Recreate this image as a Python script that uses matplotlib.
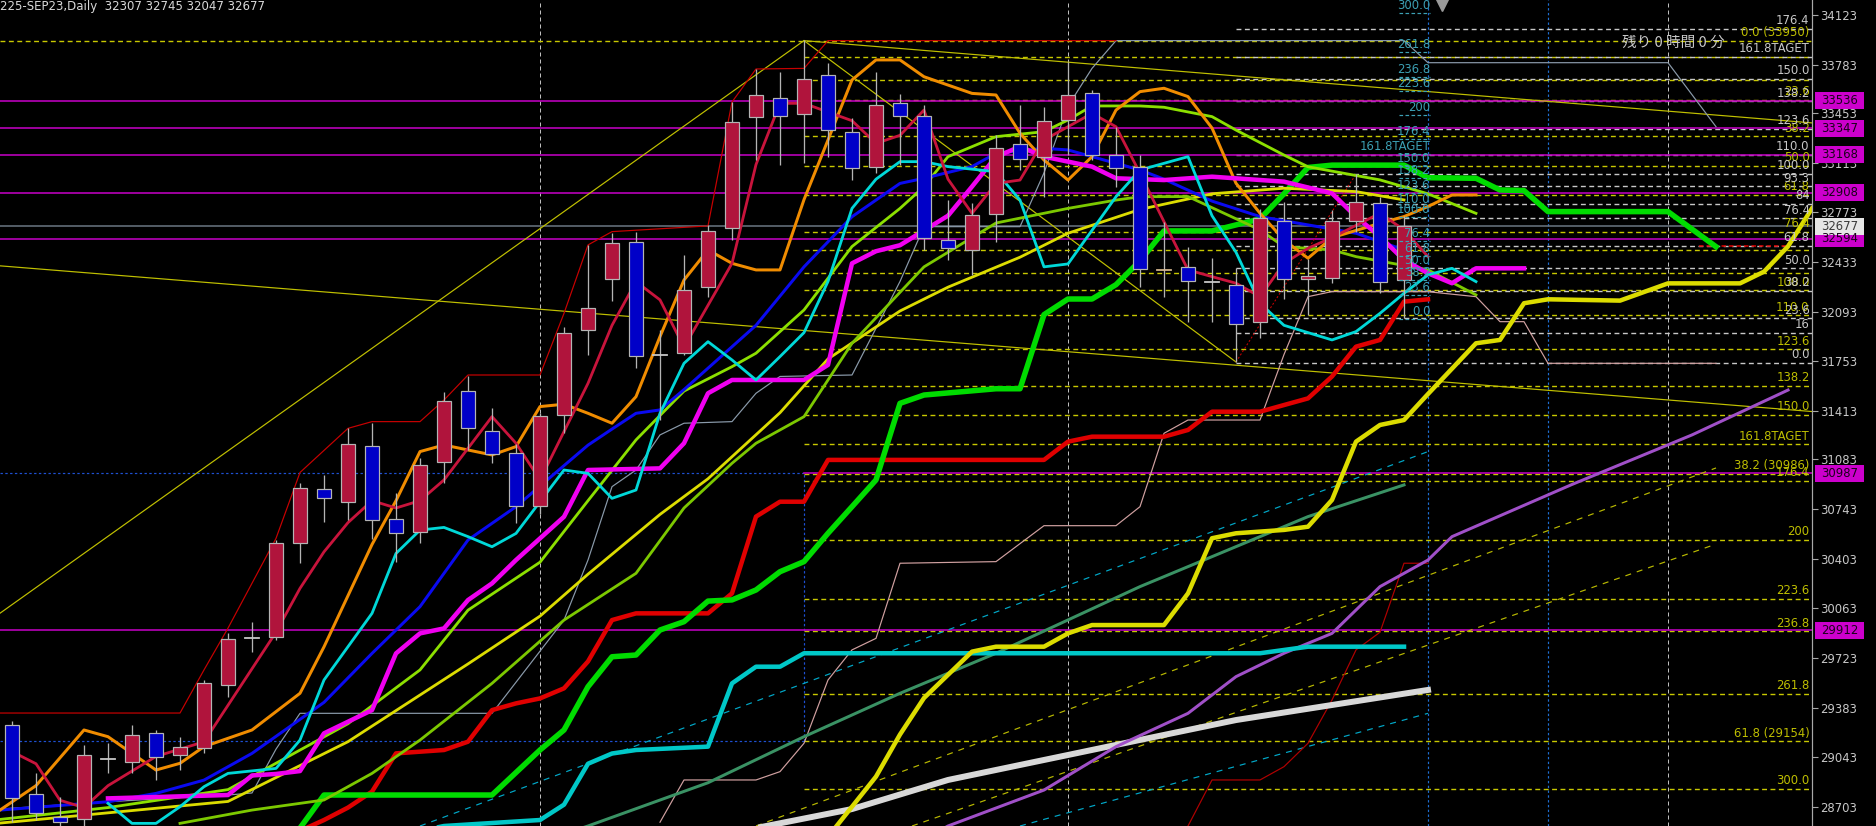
import matplotlib
matplotlib.use("Agg")
import matplotlib.pyplot as plt
from matplotlib.patches import Rectangle
from matplotlib.transforms import blended_transform_factory

# ---------------- candles (bar index 0..58) ----------------
opens = [29265, 28793, 28637, 28619, 29030, 29014, 29208, 29060, 29105, 29539,
         29858, 29869, 30508, 30877, 30793, 31174, 30672, 30588, 31067, 31553,
         31277, 31124, 30763, 31387, 31968, 32315, 32573, 31800, 31813, 32265,
         32666, 33425, 33555, 33446, 33713, 33323, 33083, 33521, 33432, 32584,
         32515, 32762, 33241, 33152, 33405, 33590, 33165, 33083, 32378, 32399,
         32296, 32276, 32023, 32714, 32317, 32324, 32714, 32837, 32307]
highs = [29290, 28934, 28774, 29128, 29139, 29265, 29231, 29185, 29573, 29892,
         29972, 30531, 30923, 30975, 31300, 31330, 30850, 31090, 31546, 31656,
         31432, 31190, 31400, 31991, 32550, 32634, 32641, 31968, 32481, 32687,
         33528, 33754, 33733, 33952, 33795, 33419, 33733, 33583, 33507, 32857,
         32837, 33302, 33507, 33494, 33802, 33610, 33357, 33165, 32707, 32536,
         32459, 32392, 32796, 32844, 32454, 32789, 33035, 32878, 32745]
lows = [28600, 28615, 28560, 28574, 28934, 28934, 28888, 28957, 29071, 29459,
        29767, 29846, 30371, 30656, 30668, 30535, 30382, 30508, 30919, 31147,
        31056, 30650, 30706, 31261, 31797, 32169, 31706, 31352, 31797, 32196,
        32584, 33131, 33097, 33111, 33152, 32994, 33042, 33097, 32515, 32447,
        32344, 32570, 33063, 32878, 33165, 33131, 32946, 32262, 32194, 32023,
        32023, 31749, 31913, 32180, 32071, 32289, 32638, 32221, 32047]
closes = [28763, 28660, 28603, 29060, 29040, 29196, 29048, 29117, 29554, 29851,
          29866, 30508, 30889, 30816, 31188, 30668, 30581, 31044, 31485, 31295,
          31120, 30763, 31380, 31946, 32121, 32561, 31790, 31808, 32242, 32646,
          33391, 33576, 33432, 33685, 33336, 33076, 33508, 33432, 32597, 32529,
          32755, 33213, 33138, 33398, 33576, 33165, 33076, 32385, 32385, 32303,
          32303, 32009, 32734, 32317, 32337, 32714, 32844, 32296, 32677]

# ---------------- indicator lines (bar index, price) ----------------
green_x = [12, 13, 20, 22, 23, 24, 25, 26, 27, 28, 29, 30, 31, 32, 33, 34, 35, 36, 37, 38,
           41, 42, 43, 44, 45, 46, 47, 48, 50, 52, 53, 54, 55, 58, 59, 61, 62, 63, 64, 69, 71]
green_y = [28560, 28786, 28786, 29094, 29231, 29527, 29732, 29744, 29915, 29972,
           30113, 30121, 30189, 30314, 30383, 30577, 30759, 30942, 31466, 31523,
           31566, 31566, 32073, 32180, 32180, 32278, 32441, 32646, 32646, 32728,
           32900, 33080, 33096, 33096, 33010, 33006, 32926, 32922, 32778, 32778, 32538]

red_x = [12, 13, 14, 15, 16, 18, 19, 20, 21, 22, 23, 24, 25, 26, 29, 30, 31, 32, 33, 34,
         43, 44, 45, 48, 49, 50, 52, 54, 55, 56, 57, 58, 59]
red_y = [28540, 28615, 28700, 28809, 29071, 29094, 29151, 29367, 29413, 29447,
         29516, 29700, 29983, 30029, 30029, 30166, 30691, 30793, 30793, 31079,
         31079, 31204, 31238, 31238, 31284, 31409, 31409, 31500, 31650, 31854,
         31900, 32162, 32178]

ythick_x = [34, 36, 37, 38, 40, 41, 43, 44, 45, 48, 49, 50, 51, 53, 54, 55, 56, 57, 58, 59,
            61, 62, 63, 64, 67, 69, 72, 73, 74, 75]
ythick_y = [28500, 28912, 29200, 29450, 29767, 29801, 29801, 29892, 29949, 29949,
            30166, 30543, 30577, 30600, 30622, 30805, 31204, 31318, 31352, 31530,
            31877, 31900, 32151, 32178, 32169, 32287, 32287, 32367, 32540, 32800]

cthick_x = [17, 18, 22, 23, 24, 25, 26, 29, 30, 31, 32, 33, 52, 54, 58]
cthick_y = [28540, 28574, 28615, 28720, 29000, 29070, 29094, 29117, 29550, 29664,
            29664, 29756, 29756, 29801, 29801]

white_x = [31, 35, 39, 44, 47, 51, 55, 59]
white_y = [28560, 28690, 28889, 29060, 29163, 29299, 29402, 29505]

violet_x = [38, 39, 43, 46, 49, 51, 53, 55, 57, 59, 60, 65, 70, 74]
violet_y = [28480, 28574, 28820, 29117, 29345, 29596, 29756, 29892, 30212, 30394,
            30554, 30911, 31250, 31557]

teal_x = [23, 24, 29, 33, 37, 41, 44, 47, 50, 54, 58]
teal_y = [28520, 28574, 28870, 29185, 29482, 29756, 29984, 30212, 30417, 30691, 30908]

magenta_x = [4, 9, 10, 11, 12, 13, 15, 16, 17, 18, 19, 20, 21, 23, 24, 27, 28, 29, 30, 33,
             34, 35, 36, 37, 39, 40, 41, 42, 43, 44, 45, 46, 48, 50, 53, 55, 56, 57, 58, 59,
             60, 61, 63]
magenta_y = [28763, 28786, 28920, 28930, 28950, 29208, 29367, 29755, 29892, 29926,
             30120, 30234, 30394, 30690, 31010, 31021, 31193, 31535, 31626, 31626,
             31729, 32424, 32507, 32548, 32750, 32949, 33154, 33222, 33154, 33120,
             33086, 33006, 32994, 33017, 32983, 32903, 32744, 32607, 32447, 32356,
             32288, 32390, 32390]

blue_x = [-0.5, 4, 6, 8, 10, 13, 15, 17, 19, 21, 22, 24, 25, 26, 27, 28, 31, 33, 35, 37,
          38, 40, 41, 43, 44, 45, 47, 48, 50, 52, 54, 56, 58]
blue_y = [28683, 28740, 28797, 28888, 29071, 29420, 29755, 30075, 30531, 30759,
          30900, 31180, 31290, 31398, 31421, 31560, 32000, 32400, 32743, 32971,
          33006, 33086, 33177, 33211, 33200, 33154, 33063, 33000, 32850, 32744,
          32687, 32630, 32516]

orange_x = [-0.5, 1, 3, 4, 6, 7, 8, 10, 12, 13, 14, 15, 16, 17, 18, 20, 21, 22, 23, 24,
            25, 26, 27, 28, 29, 30, 31, 32, 33, 34, 35, 36, 37, 38, 40, 41, 42, 43, 44, 45,
            46, 47, 48, 49, 50, 51, 52, 53, 54, 55, 57, 58, 59, 60, 61]
orange_y = [28683, 28850, 29231, 29185, 28957, 29003, 29117, 29231, 29482, 29800,
            30150, 30500, 30800, 31136, 31181, 31113, 31170, 31444, 31460, 31398,
            31330, 31512, 31923, 32310, 32516, 32424, 32379, 32379, 32860, 33268,
            33679, 33816, 33816, 33701, 33587, 33576, 33314, 33131, 32994, 33154,
            33473, 33599, 33622, 33565, 33350, 32972, 32767, 32584, 32459, 32600,
            32698, 32744, 32813, 32892, 32892]

cyan_x = [4, 5, 6, 7, 8, 9, 11, 12, 13, 15, 16, 17, 18, 19, 20, 21, 23, 24, 25, 26,
          27, 28, 29, 30, 31, 32, 33, 34, 35, 36, 37, 38, 39, 41, 42, 43, 44, 45, 46, 47,
          49, 50, 51, 52, 53, 55, 56, 57, 58, 59, 60, 61]
cyan_y = [28729, 28592, 28592, 28706, 28843, 28934, 28968, 29162, 29573, 30029,
          30439, 30599, 30617, 30554, 30485, 30576, 31010, 30987, 30816, 30873,
          31398, 31740, 31888, 31763, 31626, 31786, 31950, 32300, 32800, 33000,
          33120, 33120, 33086, 33051, 32857, 32400, 32420, 32650, 32880, 33063,
          33154, 32750, 32500, 32150, 32000, 31900, 31957, 32082, 32219, 32345,
          32390, 32299]

crimson_x = [0, 1, 2, 3, 4, 6, 8, 9, 10, 11, 12, 13, 14, 15, 16, 17, 18, 20, 21, 22,
             24, 25, 26, 27, 28, 30, 31, 32, 33, 35, 36, 37, 38, 39, 40, 41, 42, 43, 45, 46,
             47, 49, 50, 51, 52, 53, 54, 55, 57, 58, 59]
crimson_y = [29083, 29000, 28750, 28700, 28850, 29050, 29150, 29400, 29650, 29900,
             30200, 30450, 30650, 30800, 30750, 30800, 30942, 31375, 31193, 30942,
             31603, 32000, 32299, 32174, 31850, 32424, 33100, 33519, 33519, 33400,
             33245, 33300, 33473, 33000, 32766, 32971, 32994, 33268, 33450, 33359,
             33040, 32379, 32333, 32288, 32196, 32424, 32527, 32600, 32767, 32653, 32470]

yg1_x = [-0.5, 4, 9, 14, 17, 19, 22, 24, 26, 28, 30, 31, 33, 35, 37, 38, 39, 41, 43, 44,
         45, 47, 48, 50, 51, 53, 54, 57, 59, 61]
yg1_y = [28619, 28700, 28823, 29274, 29642, 30051, 30379, 30800, 31216, 31550,
         31717, 31809, 32105, 32539, 32800, 32949, 33154, 33291, 33325, 33405,
         33501, 33501, 33492, 33428, 33336, 33165, 33085, 32995, 32900, 32766]

yg2_x = [7, 10, 13, 15, 17, 20, 23, 26, 28, 30, 31, 33, 35, 38, 41, 44, 46, 47, 49, 52,
         53, 55, 56, 59, 61]
yg2_y = [28592, 28683, 28752, 28934, 29162, 29550, 29983, 30303, 30750, 31056,
         31193, 31375, 31877, 32400, 32700, 32800, 32857, 32880, 32881, 32653,
         32538, 32516, 32470, 32379, 32208]

ymav_x = [-0.5, 9, 14, 19, 22, 24, 27, 29, 32, 34, 37, 39, 42, 44, 47, 50, 53, 56, 58]
ymav_y = [28594, 28742, 29151, 29683, 30010, 30297, 30706, 30950, 31402, 31770,
          32098, 32261, 32466, 32630, 32793, 32900, 32938, 32915, 32858]

grey_x = [-0.5, 4, 9, 10, 11, 12, 20, 23, 24, 25, 26, 27, 28, 30, 31, 32, 35, 37, 38, 42,
          43, 44, 45, 46, 58, 59, 69, 71]
grey_y = [28690, 28740, 28786, 28800, 29100, 29345, 29345, 29983, 30394, 30896,
          31010, 31250, 31330, 31341, 31535, 31650, 31660, 32300, 32675, 32675,
          33043, 33500, 33758, 33948, 33948, 33797, 33797, 33359]

pink_x = [27, 28, 31, 32, 33, 34, 35, 36, 37, 41, 43, 46, 47, 48, 49, 52, 53, 54, 55, 59,
          61, 62, 63, 64, 71]
pink_y = [28600, 28889, 28889, 28946, 29140, 29573, 29779, 29858, 30372, 30383,
          30629, 30629, 30759, 31261, 31352, 31352, 31800, 32196, 32231, 32230,
          32196, 32025, 32025, 31740, 31740]

dred_x = [-0.5, 7, 8, 9, 11, 12, 14, 15, 17, 18, 19, 22, 23, 24, 25, 29, 30, 31, 33, 34, 46]
dred_y = [29347, 29347, 29642, 29928, 30542, 30993, 31295, 31341, 31341, 31489,
          31660, 31660, 32082, 32550, 32641, 32680, 33528, 33754, 33758, 33948, 33948]

dred2_x = [48, 49, 50, 52, 53, 54, 55, 56, 57, 58, 59]
dred2_y = [28450, 28574, 28889, 28889, 28980, 29140, 29436, 29779, 29900, 30372, 30372]

# trend lines (start bar, start price, end bar, end price)
trend_yellow = [(-0.5, 32407, 75, 31410), (-0.5, 30030, 33, 33948),
                (33, 33948, 75, 33385), (33, 33948, 51, 31749)]
trend_cyan_dash = [(17, 28574, 59, 31136), (42, 28574, 59, 29345)]
trend_yellow_dash = [(31, 28574, 71, 31024), (37.5, 28574, 71, 30503)]
trend_red_dot = [(51, 31749, 56, 33035)]

# horizontal levels
magenta_levels = [33536, 33347, 33168, 32908, 32594, 29912]
magenta_level_late = 30987
bid_price = 32677
yticks = [34123, 33783, 33453, 33113, 32773, 32433, 32093, 31753, 31413, 31083,
          30743, 30403, 30063, 29723, 29383, 29043, 28703]
box_prices = [33536, 33347, 33168, 32908, 32594, 30987, 29912]

# fibonacci objects
fib_levels = [0, 23.6, 38.2, 50, 61.8, 76.4, 100, 110, 123.6, 138.2, 150, 161.8,
              176.4, 200, 223.6, 236.8, 261.8, 300]
fib_names = ["0.0", "23.6", "38.2", "50.0", "61.8", "76.4", "100.0", "110.0", "123.6",
             "138.2", "150.0", "161.8TAGET", "176.4", "200", "223.6", "236.8", "261.8", "300.0"]
fibY_zero, fibY_hundred = 33945, 32239          # yellow set, from bar 33
fibC_zero, fibC_hundred = 32043, 32741          # cyan labels near bar 59
white_levels = [0, 16, 23.6, 38.2, 50, 61.8, 76.4, 84, 93.3, 100, 110, 123.6, 138.2,
                150, 161.8, 176.4]
white_names = ["0.0", "16", "23.6", "38.2", "50.0", "61.8", "76.4", "84", "93.3", "100.0",
               "110.0", "123.6", "138.2", "150.0", "161.8TAGET", "176.4"]
fibW_zero, fibW_hundred = 31742, 33038          # white set, from bar 51
fib3_prices = [33950, 30986, 29154]
fib3_names = ["0.0 (33950)", "38.2 (30986)", "61.8 (29154)"]
extra_yellow = [33836, 33679, 32515, 32358]

v_white_bars = [22, 44, 69]
v_blue_bars = [59, 64]

title = "225-SEP23,Daily  32307 32745 32047 32677"
jp_text = "残り 0 時間 0 分"

# ---------------- figure ----------------
W, H = 1876, 826
PX = 0.72  # points per pixel at dpi 100
fig = plt.figure(figsize=(W / 100, H / 100), dpi=100, facecolor="black")
ax = fig.add_axes([0, 0, 1812 / W, 1])
ax.set_facecolor("black")
X0, X1 = -0.5, 75.0
Y0, Y1 = 28574, 34226
ax.set_xlim(X0, X1)
ax.set_ylim(Y0, Y1)
for s in ["top", "left", "bottom"]:
    ax.spines[s].set_visible(False)
ax.spines["right"].set_color("#A8A8A8")
ax.spines["right"].set_linewidth(1.2 * PX)
ax.set_xticks([])
ax.yaxis.tick_right()
ax.set_yticks(yticks)
ax.set_yticklabels([str(v) for v in yticks])
ax.tick_params(axis="y", direction="out", length=4, width=0.8, color="#A8A8A8",
               labelcolor="#C8C8C8", labelsize=8.4, pad=2)

ppx = (Y1 - Y0) / H  # price per pixel

FY = "#C8C800"
FW = "#C8C8C8"
dash_fib = (0, (3.5, 2.5))

# vertical separators
for b in v_white_bars:
    ax.axvline(b, color="#BEBEBE", lw=1 * PX, ls=(0, (4, 3)), zorder=1)
for b in v_blue_bars:
    ax.axvline(b, color="#1E6ED2", lw=1.2 * PX, ls=(0, (2, 2)), zorder=1)

# blue dotted box edges on the left
ax.plot([X0, 33], [30987, 30987], color="#1E50D2", lw=1.2 * PX, ls=(0, (2, 2)), zorder=1)
ax.plot([X0, 33], [29154, 29154], color="#1E50D2", lw=1.2 * PX, ls=(0, (2, 2)), zorder=1)
ax.plot([33, 33], [29154, 30987], color="#1E50D2", lw=1.2 * PX, ls=(0, (2, 2)), zorder=1)

# fib levels: yellow set
for lv in fib_levels:
    p = fibY_zero + (fibY_hundred - fibY_zero) * lv / 100.0
    x_start = X0 if lv == 0 else 33
    ax.plot([x_start, X1], [p, p], color=FY, lw=1.4 * PX, ls=dash_fib, zorder=1)
for p in fib3_prices[1:]:
    ax.plot([33, X1], [p, p], color=FY, lw=1.4 * PX, ls=dash_fib, zorder=1)
for p in extra_yellow:
    ax.plot([33, X1], [p, p], color=FY, lw=1.4 * PX, ls=dash_fib, zorder=1)
# white set
for lv in white_levels:
    p = fibW_zero + (fibW_hundred - fibW_zero) * lv / 100.0
    ax.plot([51, X1], [p, p], color=FW, lw=1.4 * PX, ls=dash_fib, zorder=1)

# magenta levels and bid line
for p in magenta_levels:
    ax.axhline(p, color="#C000C0", lw=1.6 * PX, zorder=1.5)
ax.plot([33, X1], [magenta_level_late] * 2, color="#C000C0", lw=1.6 * PX, zorder=1.5)
ax.axhline(bid_price, color="#6C7884", lw=1.5 * PX, zorder=1.4)

# trend lines
for (xa, ya, xb, yb) in trend_yellow:
    ax.plot([xa, xb], [ya, yb], color="#C0C000", lw=1.2 * PX, zorder=1.6)
for (xa, ya, xb, yb) in trend_cyan_dash:
    ax.plot([xa, xb], [ya, yb], color="#00A8C8", lw=1.2 * PX, ls=(0, (5, 5)), zorder=1.6)
for (xa, ya, xb, yb) in trend_yellow_dash:
    ax.plot([xa, xb], [ya, yb], color="#B8B800", lw=1.2 * PX, ls=(0, (5, 5)), zorder=1.6)
for (xa, ya, xb, yb) in trend_red_dot:
    ax.plot([xa, xb], [ya, yb], color="#D00000", lw=1 * PX, ls=(0, (2, 2)), zorder=1.6)
ax.plot([70.3, 74], [32543, 32543], color="#E00000", lw=1.5 * PX, ls=(0, (3, 2)), zorder=1.6)

# thin step lines
ax.plot(grey_x, grey_y, color="#8A9AAA", lw=1.2 * PX, zorder=2)
ax.plot(pink_x, pink_y, color="#D0A0A0", lw=1.2 * PX, zorder=2)
ax.plot(dred_x, dred_y, color="#C80000", lw=1.2 * PX, zorder=2)
ax.plot(dred2_x, dred2_y, color="#B00000", lw=1.2 * PX, zorder=2)

# indicator lines
ax.plot(white_x, white_y, color="#D8D8D8", lw=6 * PX, zorder=2.2)
ax.plot(teal_x, teal_y, color="#3A9264", lw=3 * PX, zorder=2.2)
ax.plot(violet_x, violet_y, color="#A050C8", lw=3 * PX, zorder=2.2)
ax.plot(cthick_x, cthick_y, color="#00C8C8", lw=4.5 * PX, zorder=2.3)
ax.plot(ythick_x, ythick_y, color="#DCDC00", lw=4.5 * PX, zorder=2.3)
ax.plot(red_x, red_y, color="#E00000", lw=4.5 * PX, zorder=2.3)
ax.plot(green_x, green_y, color="#00DC00", lw=5.5 * PX, zorder=2.3)
ax.plot(ymav_x, ymav_y, color="#DCDC00", lw=2.8 * PX, zorder=2.4)
ax.plot(yg2_x, yg2_y, color="#7CC800", lw=2.8 * PX, zorder=2.4)
ax.plot(yg1_x, yg1_y, color="#8CE000", lw=2.8 * PX, zorder=2.4)
ax.plot(blue_x, blue_y, color="#0A0AF0", lw=3 * PX, zorder=2.4)
ax.plot(orange_x, orange_y, color="#F08C00", lw=3 * PX, zorder=2.4)
ax.plot(magenta_x, magenta_y, color="#F000F0", lw=4.5 * PX, zorder=2.4)
ax.plot(cyan_x, cyan_y, color="#00D8D8", lw=2.8 * PX, zorder=2.4)
ax.plot(crimson_x, crimson_y, color="#C8143C", lw=2.8 * PX, zorder=2.4)

# candles
bw = 0.62
for i in range(len(opens)):
    o, h, l, c = opens[i], highs[i], lows[i], closes[i]
    ax.plot([i, i], [l, h], color="#B4B4B4", lw=1.3 * PX, zorder=3, solid_capstyle="butt")
    if abs(c - o) < 12:
        col = "#D2B48C" if i == 48 else "#C8C8C8"
        ax.plot([i - bw / 2, i + bw / 2], [o, o], color=col, lw=1.8 * PX, zorder=3.1)
    else:
        fc = "#B0143C" if c > o else "#0000C8"
        ax.add_patch(Rectangle((i - bw / 2, min(o, c)), bw, abs(c - o), facecolor=fc,
                               edgecolor="#B4B4B4", lw=1.2 * PX, zorder=3.1))

# fib labels (yellow, white, cyan)
def label(x, p, txt, color, dy=1.2, ha="right", size=8.4):
    ax.annotate(txt, xy=(x, p), xytext=(0, dy), textcoords="offset points", ha=ha,
                va="bottom", color=color, fontsize=size, zorder=6, annotation_clip=False)

xr = 74.9
for lv, nm in zip(fib_levels, fib_names):
    if lv == 0:
        continue
    p = fibY_zero + (fibY_hundred - fibY_zero) * lv / 100.0
    label(xr, p, nm, "#BEBE00")
for p, nm in zip(fib3_prices, fib3_names):
    label(xr, p, nm, "#BEBE00")
for lv, nm in zip(white_levels, white_names):
    p = fibW_zero + (fibW_hundred - fibW_zero) * lv / 100.0
    label(xr, p, nm, "#C8C8C8")
for lv, nm in zip(fib_levels, fib_names):
    p = fibC_zero + (fibC_hundred - fibC_zero) * lv / 100.0
    ax.plot([57.8, 59.1], [p, p], color="#3CA0B4", lw=1.2 * PX, ls=(0, (3, 2)), zorder=5)
    label(59.1, p, nm, "#3CA0B4", dy=0.8)

# grey marker at top
ax.plot([59.6], [34195], marker="v", color="#9A9A9A", markersize=9, zorder=6, clip_on=False)

# texts
ax.text(0.0, 1.0, title, transform=ax.transAxes, ha="left", va="top", color="#D8D8D8",
        fontsize=8.5, zorder=7)
ax.text(67.1, 33935, jp_text, ha="left", va="center", color="#C8C8C8", fontsize=10.5,
        family=["Noto Sans CJK JP", "DejaVu Sans"], zorder=6)

# price boxes on the axis
bt = blended_transform_factory(ax.transAxes, ax.transData)
bx0 = 1815 / 1812
bwid = 49 / 1812
bh = 17 * ppx
for p in box_prices:
    ax.add_patch(Rectangle((bx0, p - bh / 2), bwid, bh, transform=bt, facecolor="#CC00CC",
                           edgecolor="none", clip_on=False, zorder=8))
    ax.text(bx0 + bwid / 2, p, str(p), transform=bt, ha="center", va="center",
            color="#1A001A", fontsize=8.4, zorder=9, clip_on=False)
ax.add_patch(Rectangle((bx0, bid_price - bh / 2), bwid, bh, transform=bt, facecolor="#E6E6E6",
                       edgecolor="none", clip_on=False, zorder=8))
ax.text(bx0 + bwid / 2, bid_price, str(bid_price), transform=bt, ha="center", va="center",
        color="#3A3A3A", fontsize=8.4, zorder=9, clip_on=False)

fig.savefig("out.png", dpi=100, facecolor="black")
